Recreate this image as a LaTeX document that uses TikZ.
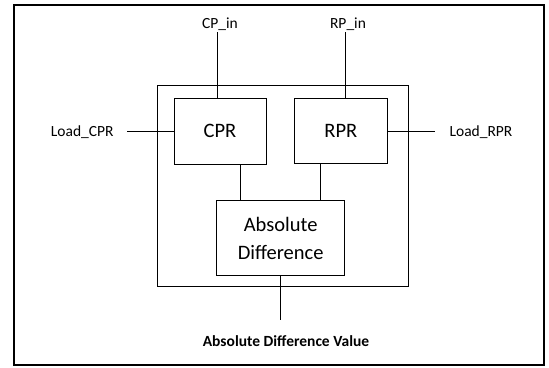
\documentclass[tikz,border=0pt]{standalone}
\usepackage{fontspec}
\setmainfont{Carlito}
\tikzset{
  blk_n/.style = {rectangle, draw=black, line width=0.9pt, inner sep=0pt,
    align=center, text centered, font=\fontsize{20.5}{28}\selectfont},
  pin_n/.style = {inner sep=1pt, font=\fontsize{15.5}{18}\selectfont},
  wire/.style = {line width=0.9pt}}

\begin{document}
\begin{tikzpicture}[x=1pt,y=1pt]
\useasboundingbox (0,0) rectangle (549,367);
\draw[line width=2pt] (14,2) rectangle (543.5,361.7);

% blocks
\node [blk_n, minimum width=251.5pt, minimum height=201pt] (chip) at (282.75,180.8) {};
\node [blk_n, minimum width=92pt, minimum height=66pt] (cpr) at (220,236) {CPR};
\node [blk_n, minimum width=93pt, minimum height=65pt] (rpr) at (340.8,236) {RPR};
\node [blk_n, minimum width=128pt, minimum height=75pt] (ad) at (280.7,128.7) {Absolute\\Difference};

% pins
\node [pin_n] (cpin) at (220,343) {CP\_in};
\node [pin_n] (rpin) at (348,343) {RP\_in};
\node [pin_n] (ldcpr) at (82.3,235) {Load\_CPR};
\node [pin_n] (ldrpr) at (481,235) {Load\_RPR};
\node [pin_n, font=\fontsize{15.5}{18}\selectfont\bfseries] (adval) at (286,26.3) {Absolute Difference Value};
\coordinate (ldcpr_e) at (127,236);
\coordinate (ldrpr_e) at (435,236);
\coordinate (adval_e) at (280.7,47);

\draw[wire] ([xshift=-3pt]cpr.north) -- ([xshift=-3pt]cpr.north |- cpin.south);
\draw[wire] ([xshift=4.2pt]rpr.north) -- ([xshift=4.2pt]rpr.north |- rpin.south);
\draw[wire] (ldcpr_e) -- (cpr.west);
\draw[wire] (rpr.east) -- (ldrpr_e);
\draw[wire] ([xshift=20pt]cpr.south) -- ([xshift=20pt]cpr.south |- ad.north);
\draw[wire] ([xshift=-20.8pt]rpr.south) -- ([xshift=-20.8pt]rpr.south |- ad.north);
\draw[wire] (ad.south) -- (adval_e);
\end{tikzpicture}
\end{document}
